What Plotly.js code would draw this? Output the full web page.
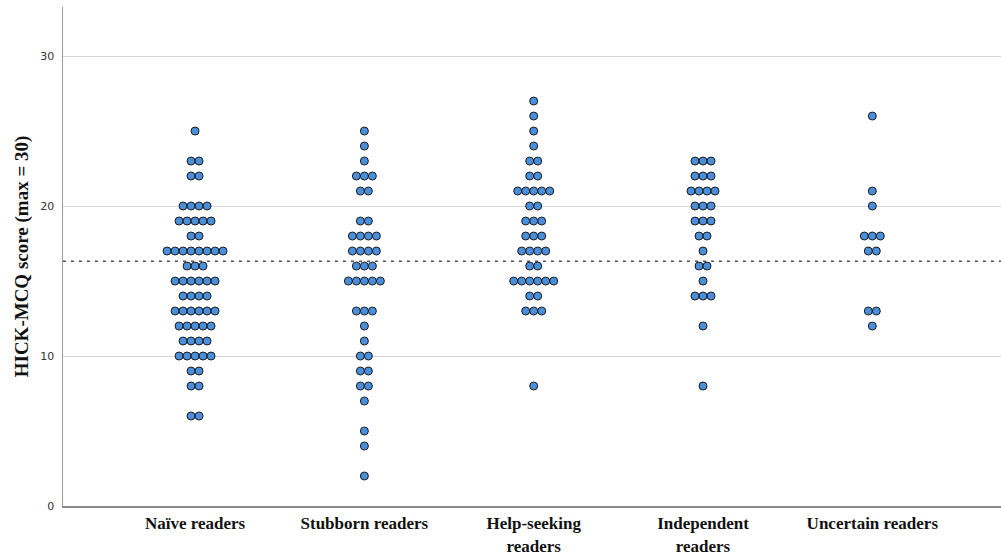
<!DOCTYPE html>
<html>
<head>
<meta charset="utf-8">
<script src="https://cdn.plot.ly/plotly-3.0.1.min.js"></script>
<style>html,body{margin:0;padding:0;background:#fff;}#chart{width:1001px;height:557px;}</style>
</head>
<body>
<div id="chart"></div>
<script>
// Categories (tick labels)
const categories = ["Naïve readers", "Stubborn readers", "Help-seeking<br>readers", "Independent<br>readers", "Uncertain readers"];

// Individual HICK-MCQ scores per group
const naive = [25,23,23,22,22,20,20,20,20,19,19,19,19,19,18,18,
  17,17,17,17,17,17,17,17,16,16,16,15,15,15,15,15,15,14,14,14,14,
  13,13,13,13,13,13,12,12,12,12,12,11,11,11,11,10,10,10,10,10,9,9,8,8,6,6];
const stubborn = [25,24,23,22,22,22,21,21,19,19,18,18,18,18,17,17,17,17,
  16,16,16,15,15,15,15,15,13,13,13,12,11,10,10,9,9,8,8,7,5,4,2];
const helpSeeking = [27,26,25,24,23,23,22,22,21,21,21,21,21,20,20,19,19,19,
  18,18,18,17,17,17,17,16,16,15,15,15,15,15,15,14,14,13,13,13,8];
const independent = [23,23,23,22,22,22,21,21,21,21,20,20,20,19,19,19,18,18,
  17,16,16,15,14,14,14,12,8];
const uncertain = [26,21,20,18,18,18,17,17,13,13,12];

const groups = [naive, stubborn, helpSeeking, independent, uncertain];

// Layout geometry
const xRange = [-0.78, 4.76];
const plotLeft = 63, plotRight = 1001;
const pxPerUnit = (plotRight - plotLeft) / (xRange[1] - xRange[0]);
const dotPx = 8;
const step = dotPx / pxPerUnit;

const xs = [], ys = [];
groups.forEach((vals, gi) => {
  const counts = {};
  vals.forEach(v => { counts[v] = (counts[v] || 0) + 1; });
  Object.keys(counts).forEach(k => {
    const n = counts[k];
    for (let j = 0; j < n; j++) {
      xs.push(gi + (j - (n - 1) / 2) * step);
      ys.push(Number(k));
    }
  });
});

// Overall mean (dotted reference line)
const all = [].concat(...groups);
const overallMean = all.reduce((a, b) => a + b, 0) / all.length;

const serif = '"Liberation Serif", "Times New Roman", serif';

const trace = {
  type: 'scatter', mode: 'markers', x: xs, y: ys,
  marker: {size: 8, color: '#4a8fdc', line: {color: '#1c1c1c', width: 1}},
  hoverinfo: 'y', showlegend: false, cliponaxis: false
};

const layout = {
  width: 1001, height: 557,
  margin: {l: 63, r: 0, t: 7, b: 51},
  paper_bgcolor: '#fff', plot_bgcolor: '#fff',
  showlegend: false,
  xaxis: {
    range: xRange, tickvals: [0,1,2,3,4], ticktext: categories,
    showgrid: false, zeroline: false,
    showline: true, linecolor: '#8a8a8a', linewidth: 2,
    ticks: 'outside', ticklen: 1, tickcolor: 'rgba(0,0,0,0)',
    tickfont: {family: serif, size: 17, color: '#111', weight: 'bold'}
  },
  yaxis: {
    range: [0, 33.27], tickvals: [0,10,20,30],
    showgrid: true, gridcolor: '#d6d6d6', gridwidth: 1,
    zeroline: false, showline: true, linecolor: '#9a9a9a', linewidth: 1.5,
    ticks: 'outside', ticklen: 5, tickcolor: 'rgba(0,0,0,0)',
    tickfont: {family: '"DejaVu Sans", sans-serif', size: 11, color: '#333'},
    title: {text: 'HICK-MCQ score (max = 30)', standoff: 6,
      font: {family: serif, size: 19, color: '#111', weight: 'bold'}}
  },
  shapes: [{
    type: 'line', xref: 'paper', x0: 0, x1: 1, yref: 'y', y0: overallMean, y1: overallMean,
    layer: 'below', line: {color: '#555', width: 1.5, dash: '3px,5px'}
  }]
};

Plotly.newPlot('chart', [trace], layout, {displayModeBar: false, staticPlot: true});
</script>
</body>
</html>
